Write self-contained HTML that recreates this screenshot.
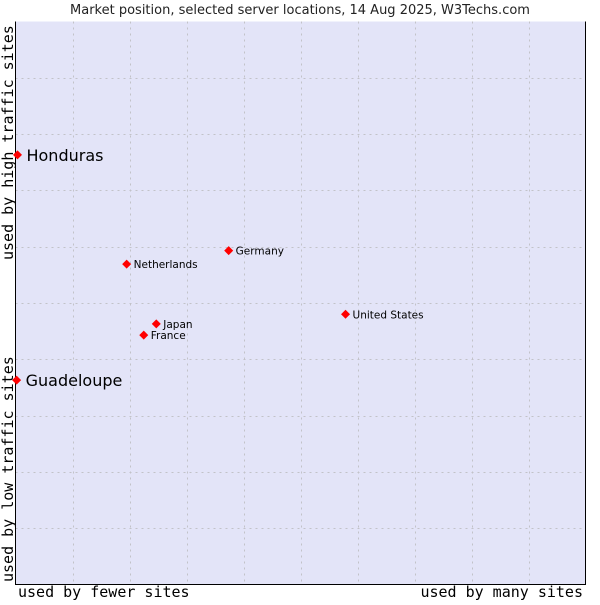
<!DOCTYPE html>
<html><head><meta charset="utf-8"><style>
body{margin:0;background:#fff;}
svg text{font-family:"DejaVu Sans","Liberation Sans",sans-serif;}
.mono{font-family:"DejaVu Sans Mono","Liberation Mono",monospace;font-size:15px;}
</style></head><body>
<svg id="chart" width="600" height="600" xmlns="http://www.w3.org/2000/svg">
<text x="300" y="14" text-anchor="middle" font-size="13" fill="#222">Market position, selected server locations, 14 Aug 2025, W3Techs.com</text>
<rect x="15.5" y="21.5" width="570" height="563" fill="#e3e4f8" stroke="none"/>
<g id="grid"></g>
<path d="M15.5 21.5 V584.5 H585.5 V21.5" fill="none" stroke="#000" stroke-width="1"/>
<text class="mono" x="18" y="597" fill="#000">used by fewer sites</text>
<text class="mono" x="583" y="597" text-anchor="end" fill="#000">used by many sites</text>
<text class="mono" transform="translate(13,582) rotate(-90)" fill="#000">used by low traffic sites</text>
<text class="mono" transform="translate(13,260) rotate(-90)" fill="#000">used by high traffic sites</text>
<g id="points"></g>
</svg>
<script>
const names = ["Honduras","Guadeloupe","Netherlands","Germany","United States","Japan","France"];
const xVals = [0.35,0.2,19.5,37.4,57.9,24.7,22.5];
const yVals = [76.3,36.3,56.9,59.3,48.0,46.3,44.3];
const big = [true,true,false,false,false,false,false];
const NS="http://www.w3.org/2000/svg";
const X0=15.5,X1=585.5,Y0=584.5,Y1=21.5;
const sx=v=>X0+(X1-X0)*v/100, sy=v=>Y0-(Y0-Y1)*v/100;
const grid=document.getElementById('grid');
for(let i=1;i<10;i++){
  const v=document.createElementNS(NS,'line');
  v.setAttribute('x1',Math.round(sx(i*10))+0.5);v.setAttribute('x2',Math.round(sx(i*10))+0.5);
  v.setAttribute('y1',Y1);v.setAttribute('y2',Y0);
  v.setAttribute('stroke','#c2c2c8');v.setAttribute('stroke-dasharray','2,4');
  
  
  grid.appendChild(v);
  const h=document.createElementNS(NS,'line');
  h.setAttribute('y1',Math.round(sy(i*10))+0.5);h.setAttribute('y2',Math.round(sy(i*10))+0.5);
  h.setAttribute('x1',X0);h.setAttribute('x2',X1);
  h.setAttribute('stroke','#c2c2c8');h.setAttribute('stroke-dasharray','2,4');
  
  
  grid.appendChild(h);
}
const pts=document.getElementById('points');
names.forEach((n,i)=>{
  const x=sx(xVals[i]), y=sy(yVals[i]);
  const d=document.createElementNS(NS,'path');
  d.setAttribute('d',`M${x} ${y-4.5} L${x+4.5} ${y} L${x} ${y+4.5} L${x-4.5} ${y} Z`);
  d.setAttribute('fill','#f00');
  
  
  pts.appendChild(d);
  const t=document.createElementNS(NS,'text');
  t.setAttribute('x',x+(big[i]?9:7));
  t.setAttribute('y',y+(big[i]?6:4));
  t.setAttribute('font-size',big[i]?16:10.5);
  t.setAttribute('fill','#000');
  t.textContent=n;
  
  
  pts.appendChild(t);
});
</script>
</body></html>
